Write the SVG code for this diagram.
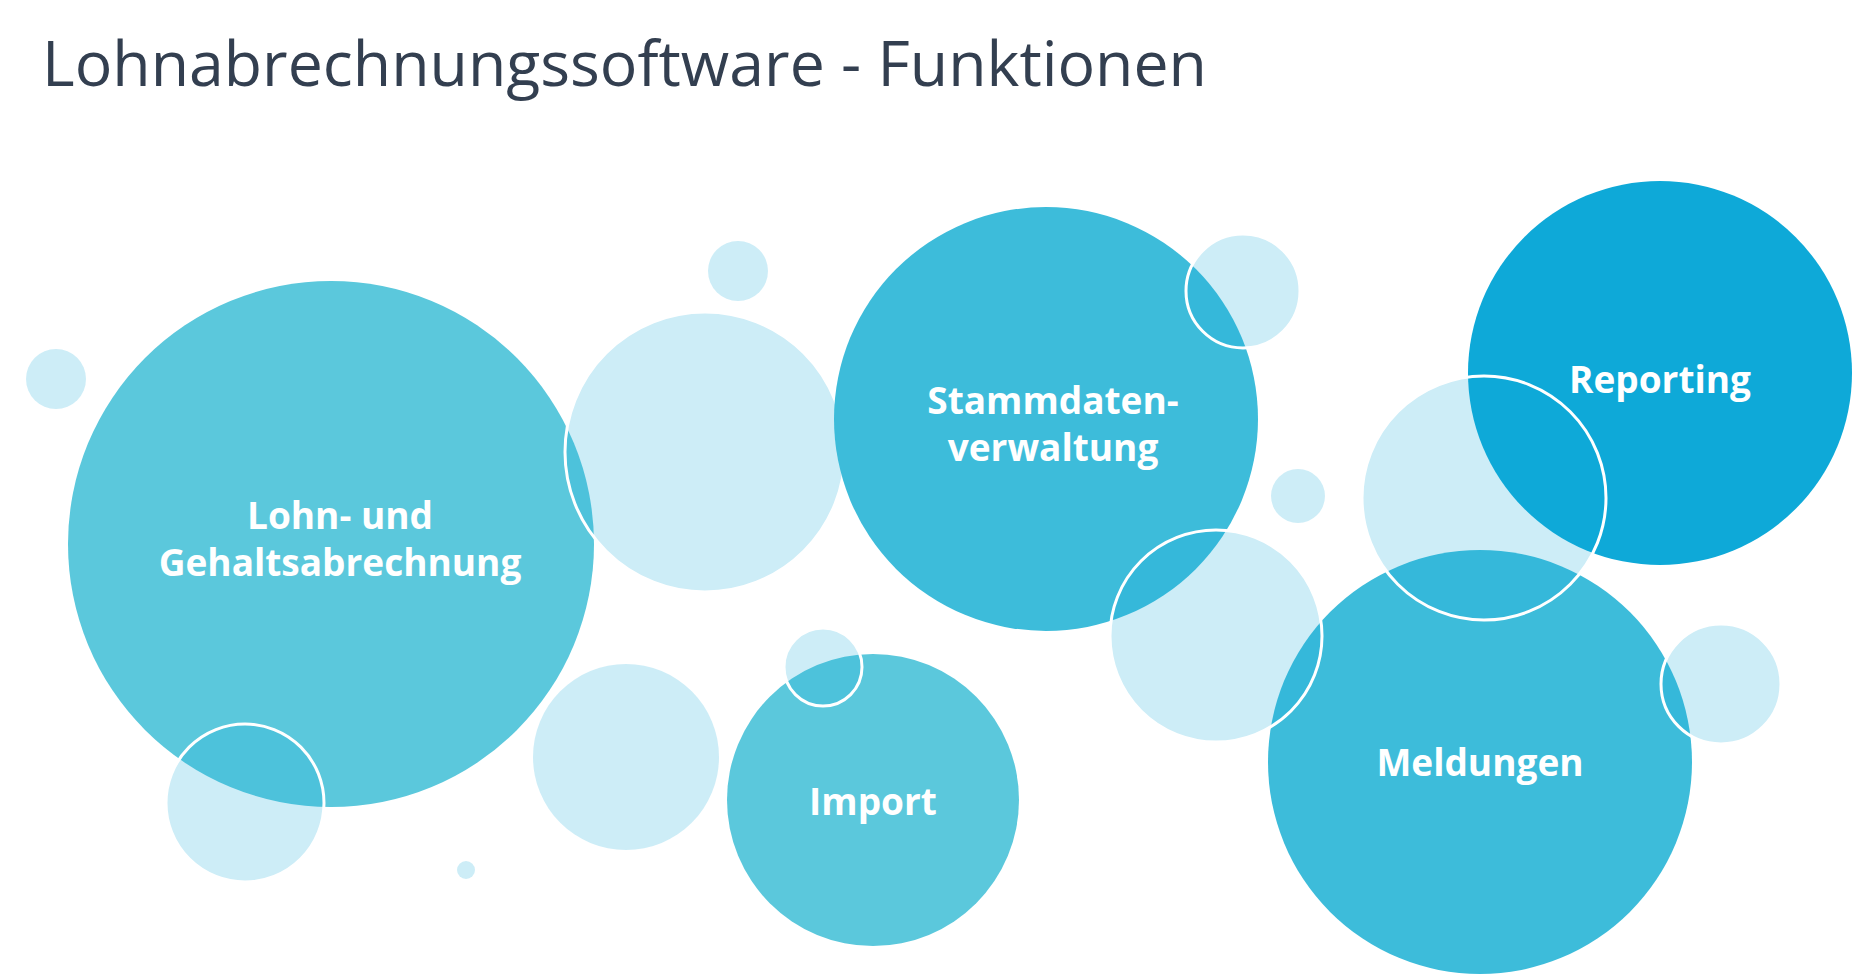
<svg xmlns="http://www.w3.org/2000/svg" width="1855" height="977" viewBox="0 0 1855 977">
<style>
.l{fill:#1AAEDB;fill-opacity:0.22}
.s{fill:none;stroke:#fff;stroke-width:3}
.t{font-family:"Open Sans","Noto Sans",sans-serif;font-weight:bold;font-size:37px;fill:#fff;text-anchor:middle}
</style>
<rect width="1855" height="977" fill="#fff"/>
<text x="42" y="86" font-family="'Open Sans','Noto Sans',sans-serif" font-size="62" fill="#333F50" textLength="1165" lengthAdjust="spacingAndGlyphs">Lohnabrechnungssoftware - Funktionen</text>
<g id="lohn"><circle cx="331" cy="544" r="263" fill="#5BC8DC"/></g>
<g id="bubble-mid"><circle class="l" cx="705" cy="452" r="140"/><circle class="s" cx="705" cy="452" r="140"/></g>
<g id="import"><circle cx="873" cy="800" r="146" fill="#5BC8DC"/></g>
<g id="stamm"><circle cx="1046" cy="419" r="212" fill="#3DBCDA"/></g>
<g id="meld"><circle cx="1480" cy="762" r="212" fill="#3DBCDA"/></g>
<g id="deco">
<circle class="l" cx="1484" cy="498" r="122"/>
</g>
<g id="rep"><circle cx="1660" cy="373" r="192" fill="#0EA9D8"/></g>
<g id="bubbles">
<circle class="l" cx="56" cy="379" r="30"/>
<circle class="l" cx="245" cy="803" r="79"/><circle class="s" cx="245" cy="803" r="79"/>
<circle class="l" cx="738" cy="271" r="30"/>
<circle class="l" cx="626" cy="757" r="93"/>
<circle class="l" cx="466" cy="870" r="9"/>
<circle class="l" cx="823" cy="667" r="39"/><circle class="s" cx="823" cy="667" r="39"/>
<circle class="l" cx="1243" cy="291" r="57"/><circle class="s" cx="1243" cy="291" r="57"/>
<circle class="l" cx="1298" cy="496" r="27"/>
<circle class="l" cx="1216" cy="636" r="106"/><circle class="s" cx="1216" cy="636" r="106"/>
<circle class="s" cx="1484" cy="498" r="122"/>
<circle class="l" cx="1721" cy="684" r="60"/><circle class="s" cx="1721" cy="684" r="60"/>
</g>
<g id="labels">
<text class="t" x="340" y="529">Lohn- und</text>
<text class="t" x="340" y="576">Gehaltsabrechnung</text>
<text class="t" x="1053" y="414">Stammdaten-</text>
<text class="t" x="1053" y="461">verwaltung</text>
<text class="t" x="1660" y="393">Reporting</text>
<text class="t" x="1480" y="776">Meldungen</text>
<text class="t" x="873" y="815">Import</text>
</g>
</svg>
